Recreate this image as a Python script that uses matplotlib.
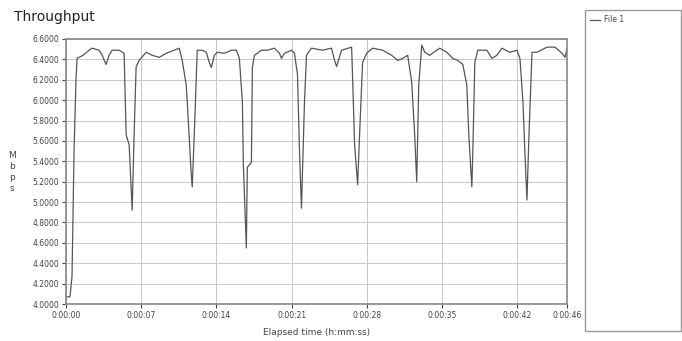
import matplotlib.pyplot as plt
from matplotlib.patches import Rectangle

# elapsed seconds and throughput (Mbps)
t = [0.0, 0.37, 0.56, 0.75, 0.93, 1.03, 1.59, 2.15, 2.43, 3.08, 3.36, 3.73, 4.01, 4.29,
     4.94, 5.41, 5.60, 5.88, 6.16, 6.34, 6.53, 6.81, 7.46, 8.02, 8.68, 9.33, 10.07,
     10.54, 10.82, 11.19, 11.29, 11.66, 11.75, 11.94, 12.22, 12.69, 13.06, 13.34,
     13.53, 13.81, 14.09, 14.74, 15.39, 15.86, 16.14, 16.42, 16.51, 16.79, 16.88,
     17.26, 17.35, 17.54, 18.19, 18.75, 19.40, 19.87, 20.06, 20.34, 20.99, 21.27,
     21.55, 21.74, 21.92, 22.20, 22.39, 22.85, 23.88, 24.72, 25.00, 25.19, 25.65,
     26.59, 26.68, 26.87, 27.15, 27.33, 27.61, 27.99, 28.54, 29.48, 30.32, 30.88,
     31.34, 31.81, 32.18, 32.46, 32.65, 32.84, 33.12, 33.40, 33.86, 34.51, 34.79,
     35.45, 36.01, 36.47, 36.94, 37.31, 37.50, 37.78, 37.87, 38.06, 38.34, 39.18,
     39.65, 40.11, 40.58, 41.32, 41.98, 42.26, 42.54, 42.72, 42.91, 43.10, 43.38,
     43.84, 44.78, 45.52, 46.18, 46.46, 46.64]
mbps = [4.07, 4.07, 4.27, 5.51, 6.20, 6.41, 6.44, 6.49, 6.51, 6.49, 6.44, 6.35, 6.44, 6.49,
        6.49, 6.46, 5.66, 5.56, 4.92, 5.66, 6.33, 6.39, 6.47, 6.44, 6.42, 6.46, 6.49,
        6.51, 6.39, 6.15, 5.98, 5.27, 5.15, 5.66, 6.49, 6.49, 6.47, 6.37,
        6.32, 6.44, 6.47, 6.46, 6.49, 6.49, 6.41, 5.98, 5.37, 4.55, 5.34,
        5.39, 6.32, 6.44, 6.49, 6.49, 6.51, 6.46, 6.41, 6.46, 6.49, 6.46,
        6.25, 5.49, 4.94, 5.98, 6.44, 6.51, 6.49, 6.51, 6.39, 6.33, 6.49,
        6.52, 6.22, 5.56, 5.17, 5.66, 6.37, 6.46, 6.51, 6.49, 6.44, 6.39,
        6.41, 6.44, 6.18, 5.66, 5.20, 6.15, 6.54, 6.47, 6.44, 6.49, 6.51,
        6.47, 6.41, 6.39, 6.35, 6.15, 5.66, 5.15, 5.49, 6.37, 6.49, 6.49,
        6.41, 6.44, 6.51, 6.47, 6.49, 6.41, 5.98, 5.49, 5.02, 5.66, 6.47,
        6.47, 6.52, 6.52, 6.46, 6.42, 6.51]

x_ticks = [0, 7, 14, 21, 28, 35, 42, 46.64]
x_labels = ["0:00:00", "0:00:07", "0:00:14", "0:00:21", "0:00:28", "0:00:35", "0:00:42", "0:00:46"]
y_ticks = [4.0 + 0.2 * i for i in range(14)]

fig = plt.figure(figsize=(6.82, 3.41), dpi=100)
ax = fig.add_axes([66 / 682, 1 - 304 / 341, (567 - 66) / 682, (304 - 39) / 341])

ax.plot(t, mbps, color="#555555", lw=0.9)

ax.set_xlim(0, 46.64)
ax.set_ylim(4.0, 6.6)
ax.set_xticks(x_ticks)
ax.set_xticklabels(x_labels)
ax.set_yticks(y_ticks)
ax.set_yticklabels([f"{v:.4f}" for v in y_ticks])
ax.tick_params(labelsize=5.5, colors="#444444", length=3, width=0.8, pad=2)
ax.grid(True, color="#c8c8c8", lw=0.7)
for s in ax.spines.values():
    s.set_color("#888888")
    s.set_linewidth(1.2)

ax.set_xlabel("Elapsed time (h:mm:ss)", fontsize=6.5, color="#444444", labelpad=6)
fig.text(12 / 682, 1 - 172 / 341, "M\nb\np\ns", fontsize=6.5, color="#444444",
         ha="center", va="center", linespacing=1.3)
fig.text(14 / 682, 1 - 17 / 341, "Throughput", fontsize=10, color="#222222",
         ha="left", va="center")

# legend panel on the right
fig.patches.append(Rectangle((585 / 682, 1 - 331 / 341), 96 / 682, 321 / 341,
                             transform=fig.transFigure, fill=False,
                             edgecolor="#999999", lw=1.0))
fig.lines.append(plt.Line2D([590 / 682, 600 / 682], [1 - 20 / 341] * 2,
                            transform=fig.transFigure, color="#555555", lw=0.9))
fig.text(604 / 682, 1 - 20 / 341, "File 1", fontsize=5.5, color="#444444", va="center")

fig.savefig("out.png", dpi=100)
